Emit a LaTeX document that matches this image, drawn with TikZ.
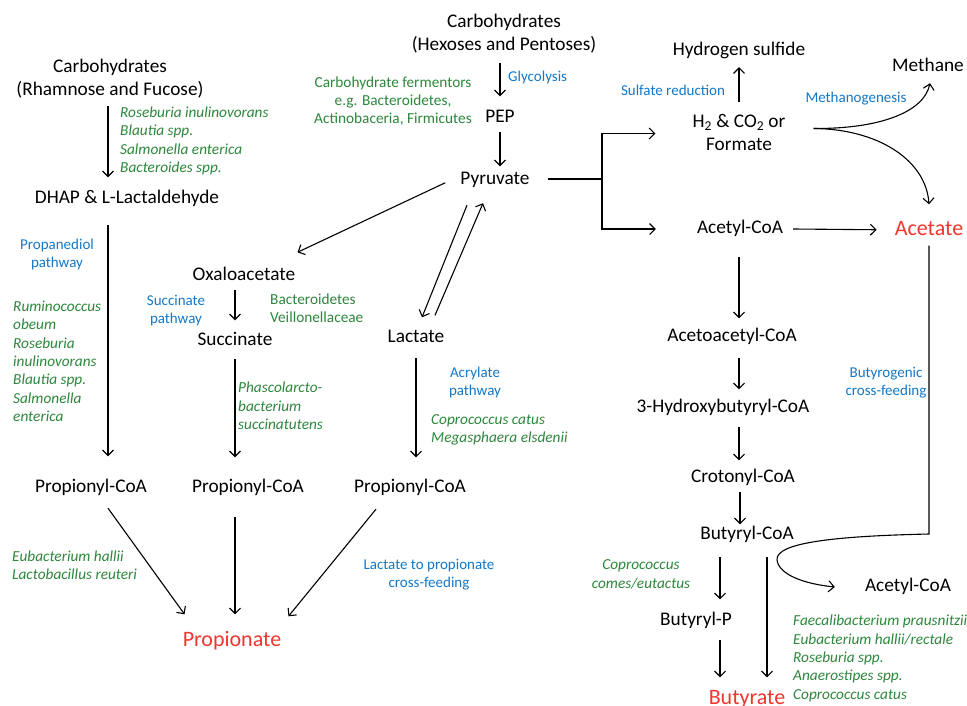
\documentclass[tikz,border=0pt]{standalone}
\usepackage{fontspec}
\setmainfont{Carlito}
\usetikzlibrary{arrows.meta}
\definecolor{mygreen}{RGB}{45,135,60}
\definecolor{myblue}{RGB}{20,120,200}
\definecolor{myred}{RGB}{240,55,45}
\tikzset{
 blk/.style={font=\fontsize{19.3}{23}\selectfont, inner sep=0pt, text height=13pt, text depth=4pt, anchor=base},
 blkm/.style={font=\fontsize{19.3}{23}\selectfont, inner sep=0pt, align=center, anchor=base},
 grn/.style={text=mygreen, font=\itshape\fontsize{15.3}{18.3}\selectfont, inner sep=0pt, align=left, anchor=base west},
 grnu/.style={text=mygreen, font=\fontsize{15.3}{18}\selectfont, inner sep=0pt, align=center, anchor=base},
 blu/.style={text=myblue, font=\fontsize{15}{18.3}\selectfont, inner sep=0pt, align=center, anchor=base},
 rd/.style={text=myred, font=\fontsize{22}{26}\selectfont, inner sep=0pt, text height=15pt, text depth=4.5pt, anchor=base},
 arr/.style={-{Straight Barb[length=5.5pt,width=11pt]}, line width=1.1pt},
 ln/.style={line width=1.1pt},
}
\begin{document}
\begin{tikzpicture}[x=1pt,y=-1pt]
\fill[white] (0,0) rectangle (967,706);
\useasboundingbox (0,0) rectangle (967,706);
% column coordinates
\coordinate (xL) at (108,0);
\coordinate (xC) at (500,0);
\coordinate (xS) at (235,0);
\coordinate (xLa) at (416,0);
\coordinate (xR) at (739,0);
\coordinate (xR2) at (740,0);
\coordinate (xBP) at (720,0);
\coordinate (xBu) at (767,0);
% ---------- left branch ----------
\node[blkm] (carbL) at (110,95.5) {Carbohydrates\\(Rhamnose and Fucose)};
\node[grn] (g1) at (120,172.4) {Roseburia inulinovorans\\Blautia spp.\\Salmonella enterica\\Bacteroides spp.};
\node[blk] (dhap) at (127,203.5) {DHAP \& L-Lactaldehyde};
\node[blu] (bprop) at (57,267.8) {Propanediol\\pathway};
\node[grn] (g3) at (13,421.3) {Ruminococcus\\obeum\\Roseburia\\inulinovorans\\Blautia spp.\\Salmonella\\enterica};
\node[blk] (prop1) at (91,492.5) {Propionyl-CoA};
% ---------- centre ----------
\node[blkm] (carbC) at (504,50.5) {Carbohydrates\\(Hexoses and Pentoses)};
\node[blu, anchor=base west] (glyc) at (508,81.5) {Glycolysis};
\node[grnu] (g2) at (393,123.5) {Carbohydrate fermentors\\e.g. Bacteroidetes,\\Actinobaceria, Firmicutes};
\node[blk] (pep) at (500,122.5) {PEP};
\node[blk] (pyr) at (495,184.5) {Pyruvate};
\node[blk] (oxa) at (244,280.5) {Oxaloacetate};
\node[blu] (bsucc) at (176,323.3) {Succinate\\pathway};
\node[grnu, align=left, anchor=base west] (g4) at (270,322.5) {Bacteroidetes\\Veillonellaceae};
\node[blk] (succ) at (235,345.5) {Succinate};
\node[grn] (g5) at (238,429.3) {Phascolarcto-\\bacterium\\succinatutens};
\node[blk] (lact) at (416,342.5) {Lactate};
\node[blu] (bacry) at (475,395.8) {Acrylate\\pathway};
\node[grn] (g6) at (431,442.8) {Coprococcus catus\\Megasphaera elsdenii};
\node[blk] (prop2) at (248,492.5) {Propionyl-CoA};
\node[blk] (prop3) at (410,492.5) {Propionyl-CoA};
\node[grn] (g7) at (12,579.8) {Eubacterium hallii\\Lactobacillus reuteri};
\node[blu] (blac) at (429,587.5) {Lactate to propionate\\cross-feeding};
\node[rd] (propionate) at (232,646) {Propionate};
% ---------- right ----------
\node[blk] (hs) at (739,55.5) {Hydrogen sulfide};
\node[blu] (bsulf) at (673,95.5) {Sulfate reduction};
\node[blkm] (h2) at (739,150.5) {H\textsubscript{2} \& CO\textsubscript{2} or\\Formate};
\node[blk] (meth) at (928,71.5) {Methane};
\node[blu] (bmeth) at (856,102.5) {Methanogenesis};
\node[blk] (acoa1) at (740,233.5) {Acetyl-CoA};
\node[rd] (acetate) at (929,235) {Acetate};
\node[blk] (acac) at (732,341.5) {Acetoacetyl-CoA};
\node[blu] (bbut) at (886,395.5) {Butyrogenic\\cross-feeding};
\node[blk] (hb) at (723,412.5) {3-Hydroxybutyryl-CoA};
\node[blk] (crot) at (743,482.5) {Crotonyl-CoA};
\node[blk] (bcoa) at (747,539.5) {Butyryl-CoA};
\node[grn, align=center, anchor=base] (g8) at (641,588) {Coprococcus\\comes/eutactus};
\node[blk] (acoa2) at (908,591.5) {Acetyl-CoA};
\node[blk] (bp) at (696,625.5) {Butyryl-P};
\node[grn] (g9) at (793,699) {Faecalibacterium prausnitzii\\Eubacterium hallii/rectale\\Roseburia spp.\\Anaerostipes spp.\\Coprococcus catus};
\node[rd] (butyrate) at (747,704) {Butyrate};
% ---------- connectors ----------
\draw[arr, shorten <=8pt, shorten >=13pt] (carbL.south -| xL) -- (dhap.north -| xL);
\draw[arr, shorten <=17.5pt, shorten >=23pt] (dhap.south -| xL) -- (prop1.north -| xL);
\draw[arr, shorten <=9.5pt, shorten >=13pt] (carbC.south -| xC) -- (pep.north -| xC);
\draw[arr, shorten <=5.5pt, shorten >=5pt] (pep.south -| xC) -- (pyr.north -| xC);
\draw[arr] ([xshift=-15pt,yshift=-2.75pt]pyr.west) -- ([xshift=2pt,yshift=15pt]oxa.north east);
\draw[arr] ([xshift=-28pt,yshift=-16.5pt]pyr.south) -- ([xshift=6pt,yshift=12pt]lact.north);
\draw[arr] ([xshift=19pt,yshift=14pt]lact.north) -- ([xshift=-12pt,yshift=-14.5pt]pyr.south);
\draw[arr, shorten <=5.5pt, shorten >=12pt] (oxa.south -| xS) -- (succ.north -| xS);
\draw[arr, shorten <=9.5pt, shorten >=22pt] (succ.south -| xS) -- (prop2.north -| xS);
\draw[arr, shorten <=11.5pt, shorten >=22pt] (lact.south -| xLa) -- (prop3.north -| xLa);
\draw[arr] ([xshift=17pt,yshift=-11.5pt]prop1.south) -- ([xshift=2pt,yshift=16.5pt]propionate.north west);
\draw[arr] ([xshift=-13pt,yshift=-20.5pt]prop2.south) -- ([xshift=3pt,yshift=16.5pt]propionate.north);
\draw[arr] ([xshift=-34pt,yshift=-12.5pt]prop3.south) -- ([xshift=7pt,yshift=14.5pt]propionate.north east);
% pyruvate branch
\coordinate (br) at (602,179);
\draw[ln] ([xshift=18pt,yshift=1pt]pyr.east) -- (br);
\draw[arr] (br) |- ([xshift=-37pt,yshift=-1pt]h2.west);
\draw[arr] (br) |- ([xshift=-41pt]acoa1.west);
% hydrogen
\draw[arr, shorten <=12pt, shorten >=7.5pt] (h2.north -| xR) -- (hs.south -| xR);
\draw[arr] ([xshift=28pt,yshift=4pt]h2.east) .. controls (880,129) and (924,112) .. ([xshift=2pt,yshift=-7.5pt]meth.south);
\draw[arr] ([xshift=28pt,yshift=4pt]h2.east) .. controls (878,129) and (926,160) .. ([yshift=15.5pt]acetate.north);
\draw[arr] ([xshift=10pt]acoa1.east) -- ([xshift=-18pt]acetate.west);
% butyrate pathway
\draw[arr, shorten <=19.5pt, shorten >=10pt] (acoa1.south -| xR) -- (acac.north -| xR);
\draw[arr, shorten <=12.5pt, shorten >=10pt] (acac.south -| xR) -- (hb.north -| xR);
\draw[arr, shorten <=10.5pt, shorten >=9pt] (hb.south -| xR) -- (crot.north -| xR);
\draw[arr, shorten <=5.5pt, shorten >=2pt] (crot.south -| xR2) -- (bcoa.north -| xR2);
\draw[arr, shorten <=13.5pt, shorten >=13pt] (bcoa.south -| xBP) -- (bp.north -| xBP);
\draw[arr, shorten <=13.5pt, shorten >=11.5pt] (bcoa.south -| xBu) -- (butyrate.north -| xBu);
\draw[arr, shorten <=10.5pt, shorten >=11.5pt] (bp.south -| xBP) -- (butyrate.north -| xBP);
% butyrogenic cross-feeding
\coordinate (turn) at (929,534);
\draw[arr] ([yshift=-6pt]acetate.south) -- (turn) .. controls (840,536) and (775,542) .. (777,560) .. controls (779,575) and (805,584) .. ([xshift=-30pt]acoa2.west);
\end{tikzpicture}
\end{document}
